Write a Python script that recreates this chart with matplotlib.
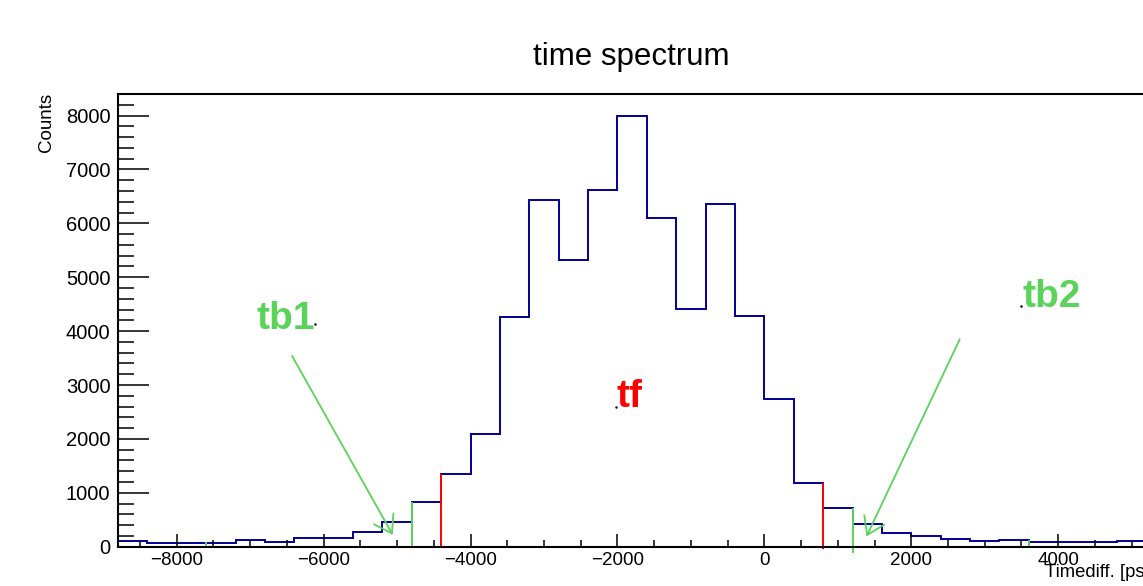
import numpy as np
import matplotlib
matplotlib.use('Agg')
import matplotlib.pyplot as plt
from matplotlib.ticker import MultipleLocator

plt.rcParams['font.family'] = ['Liberation Sans', 'DejaVu Sans']

# histogram: 400 ps bins
edges = np.arange(-8800, 5601, 400)
counts = [100, 75, 75, 75, 118, 93, 160, 162, 272, 451,
          822, 1340, 2087, 4259, 6433, 5322, 6619, 7994, 6093, 4402,
          6352, 4285, 2735, 1174, 722, 420, 259, 200, 152, 108,
          127, 80, 80, 88, 100, 100]

# window markers (x, bottom, top)
red_x = [-4400, 800]
red_lo = [-30, -48]
red_hi = [1340, 1174]
green_x = [-7600, -4800, 1200, 3600]
green_lo = [-30, 0, -120, -30]
green_hi = [90, 822, 716, 125]

# labels and arrows
labels = ['tb1', 'tb2', 'tf']
label_x = [-6918, 3515, -2014]
label_y = [4034, 4442, 2598]
label_col = ['#5ad35a', '#5ad35a', '#ff0000']
arrow_from = [(-6430, 3540), (2660, 3850)]
arrow_to = [(-5060, 220), (1390, 190)]
dot_x = [-6124, 3492, -2024]
dot_y = [4131, 4466, 2598]

W, H = 1143, 586
fig = plt.figure(figsize=(W / 100, H / 100), dpi=100)
ax = fig.add_axes([118 / W, 1 - 546.7 / H, (1150 - 118) / W, (546.7 - 94) / H])

ax.stairs(counts, edges, baseline=None, color='#000099', lw=1.4)

ax.vlines(red_x, red_lo, red_hi, color='#ff0000', lw=1.4, clip_on=False)
ax.vlines(green_x, green_lo, green_hi, color='#5ad35a', lw=1.4, clip_on=False)

for a, b in zip(arrow_from, arrow_to):
    ax.annotate('', xy=b, xytext=a,
                arrowprops=dict(arrowstyle='->,head_length=1.2,head_width=0.8',
                                color='#5ad35a', lw=1.3, shrinkA=0, shrinkB=0,
                                mutation_scale=10))

for t, x, y, c in zip(labels, label_x, label_y, label_col):
    ax.text(x, y, t, color=c, fontsize=28, fontweight='bold', ha='left', va='baseline')
ax.plot(dot_x, dot_y, ls='none', marker='.', ms=1.5, color='black')

ax.set_xlim(-8800, 5250)
ax.set_ylim(0, 8400)

ax.xaxis.set_major_locator(MultipleLocator(2000))
ax.xaxis.set_minor_locator(MultipleLocator(500))
ax.yaxis.set_major_locator(MultipleLocator(1000))
ax.yaxis.set_minor_locator(MultipleLocator(200))

ax.tick_params(axis='x', which='major', direction='in', length=9.4, width=1.1,
               labelsize=13.5, pad=3.5, top=False)
ax.tick_params(axis='x', which='minor', direction='in', length=4.8, width=1.1, top=False)
ax.tick_params(axis='y', which='major', direction='in', length=22, width=1.1,
               labelsize=14.5, pad=5.5, right=False)
ax.tick_params(axis='y', which='minor', direction='in', length=11.3, width=1.1, right=False)

for s in ax.spines.values():
    s.set_linewidth(1.5)

fig.text(631.7 / W, 1 - 65 / H, 'time spectrum', fontsize=22.5, ha='center', va='baseline')
fig.text(1150 / W, 1 - 577 / H, 'Timediff. [ps]', fontsize=13.3, ha='right', va='baseline')
fig.text(46.7 / W, 1 - 93.3 / H, 'Counts', fontsize=13.5, rotation=90, ha='center', va='top')

fig.savefig('out.png', dpi=100, facecolor='white')
